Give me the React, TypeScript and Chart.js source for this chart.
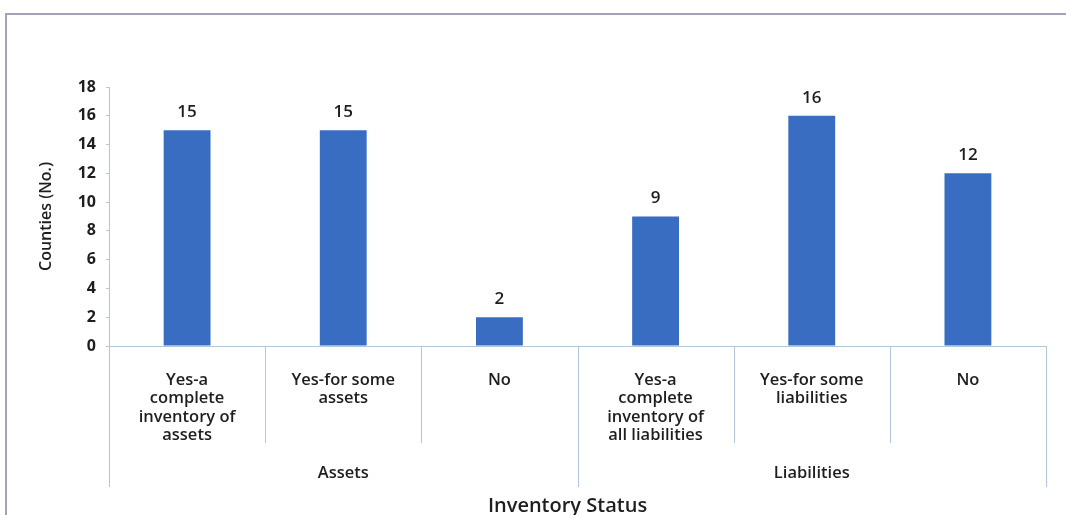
import React, { useEffect, useRef } from "react";
import { Chart, registerables } from "chart.js";

Chart.register(...registerables);

const categories: string[][] = [
  ["Yes-a", "complete", "inventory of", "assets"],
  ["Yes-for some", "assets"],
  ["No"],
  ["Yes-a", "complete", "inventory of", "all liabilities"],
  ["Yes-for some", "liabilities"],
  ["No"],
];
const groups: string[] = ["Assets", "Liabilities"];
const groupSizes: number[] = [3, 3];
const counts: number[] = [15, 15, 2, 9, 16, 12];
const yTicksMax = 18;
const yStep = 2;
const yTitle = "Counties (No.)";
const xTitle = "Inventory Status";

const FONT = "'Open Sans', 'DejaVu Sans', sans-serif";
const BAR = "#386dc2";
const AXIS = "#b3c7db";
const TEXT = "#1e1e1e";

const overlay = {
  id: "overlay",
  beforeDraw(chart: any) {
    const ctx = chart.ctx;
    ctx.save();
    ctx.strokeStyle = "#a2a2b4";
    ctx.lineWidth = 2;
    ctx.beginPath();
    ctx.moveTo(6, 515);
    ctx.lineTo(6, 14);
    ctx.lineTo(1066, 14);
    ctx.stroke();
    ctx.restore();
  },
  afterDraw(chart: any) {
    const ctx = chart.ctx;
    const x = chart.scales.x;
    const area = chart.chartArea;
    const meta = chart.getDatasetMeta(0);
    ctx.save();
    // value labels
    ctx.fillStyle = TEXT;
    ctx.font = `600 17px ${FONT}`;
    ctx.textAlign = "center";
    ctx.textBaseline = "middle";
    meta.data.forEach((bar: any, i: number) => {
      ctx.fillText(String(counts[i]), bar.x, bar.y - 18);
    });
    // boundaries
    const n = categories.length;
    const bounds: number[] = [];
    for (let i = 0; i <= n; i++) {
      if (i === 0) bounds.push(area.left);
      else if (i === n) bounds.push(area.right);
      else bounds.push((x.getPixelForValue(i - 1) + x.getPixelForValue(i)) / 2);
    }
    const groupEdges = new Set<number>([0, n]);
    let acc = 0;
    groupSizes.forEach((s) => {
      acc += s;
      groupEdges.add(acc);
    });
    ctx.strokeStyle = AXIS;
    ctx.lineWidth = 1;
    bounds.forEach((bx, i) => {
      const px = Math.round(bx) + 0.5;
      ctx.beginPath();
      ctx.moveTo(px, area.bottom);
      ctx.lineTo(px, groupEdges.has(i) ? area.bottom + 141 : area.bottom + 97);
      ctx.stroke();
    });
    // category labels
    ctx.font = `600 16.5px ${FONT}`;
    ctx.textBaseline = "middle";
    categories.forEach((lines, i) => {
      const cx = x.getPixelForValue(i);
      lines.forEach((ln, j) => {
        ctx.fillText(ln, cx, area.bottom + 34 + j * 18.4);
      });
    });
    // group labels
    let start = 0;
    groups.forEach((g, gi) => {
      const end = start + groupSizes[gi];
      const cx = (bounds[start] + bounds[end]) / 2;
      ctx.fillText(g, cx, area.bottom + 127);
      start = end;
    });
    // x title
    ctx.font = `600 20px ${FONT}`;
    ctx.fillText(xTitle, (area.left + area.right) / 2 - 10, area.bottom + 160);
    ctx.restore();
  },
};

export default function App() {
  const ref = useRef<HTMLCanvasElement>(null);
  useEffect(() => {
    if (!ref.current) return;
    const chart = new Chart(ref.current, {
      type: "bar",
      data: {
        labels: categories.map((c) => c.join(" ")),
        datasets: [
          {
            data: counts,
            backgroundColor: BAR,
            barPercentage: 0.3,
            categoryPercentage: 1,
          },
        ],
      },
      options: {
        responsive: false,
        animation: false,
        layout: { padding: { top: 87, right: 20, bottom: 0, left: 0 } },
        plugins: { legend: { display: false }, tooltip: { enabled: false } },
        scales: {
          x: {
            afterFit: (s: any) => {
              s.height = 169;
            },
            grid: { display: false },
            ticks: { display: false },
            border: { display: true, color: AXIS, width: 1 },
          },
          y: {
            min: 0,
            max: yTicksMax,
            afterFit: (s: any) => {
              s.width = 109;
            },
            ticks: {
              stepSize: yStep,
              padding: 10,
              color: TEXT,
              font: { family: FONT, size: 16, weight: "bold" },
            },
            grid: { drawOnChartArea: false, tickLength: 3, color: AXIS },
            border: { display: true, color: AXIS, width: 1 },
            title: {
              display: true,
              text: yTitle,
              color: TEXT,
              font: { family: FONT, size: 16, weight: "600" },
              padding: { top: 37, bottom: 0 },
            },
          },
        },
      },
      plugins: [overlay],
    });
    return () => chart.destroy();
  }, []);
  return (
    <div style={{ position: "absolute", left: 0, top: 0, width: 1066, height: 515, background: "#fff" }}>
      <canvas ref={ref} width={1066} height={515} />
    </div>
  );
}
